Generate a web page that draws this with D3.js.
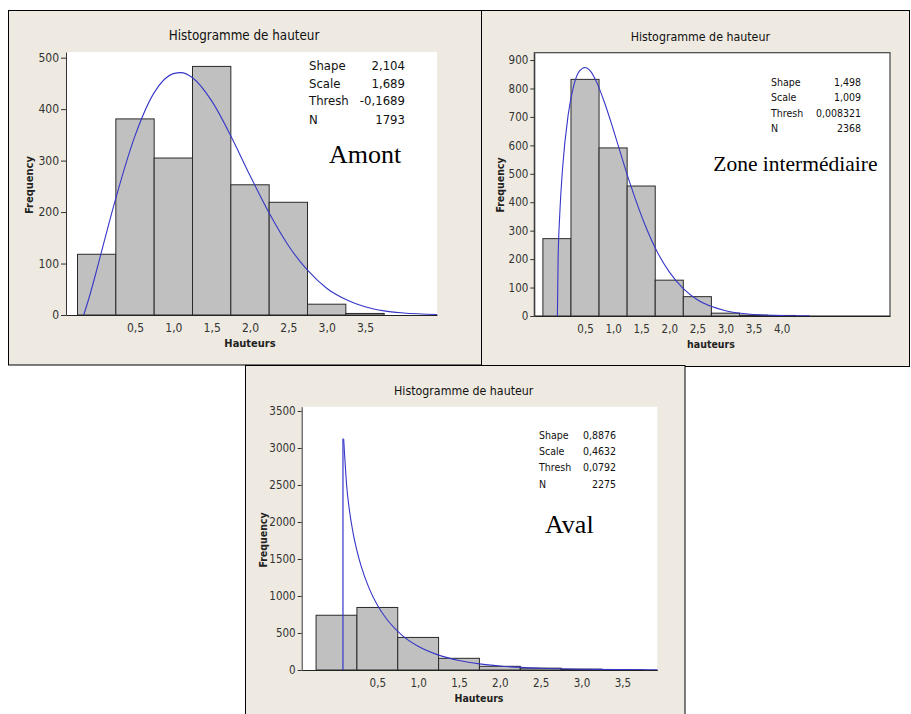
<!DOCTYPE html>
<html><head><meta charset="utf-8">
<script src="https://cdn.jsdelivr.net/npm/d3@7"></script>
<style>body{margin:0;background:#fff} svg{display:block}</style>
</head><body><svg id="c" width="911" height="714"></svg>
<script>
// ---------- DATA ----------
const statLabels = ["Shape", "Scale", "Thresh", "N"];
const binWidth = 0.5;

// Amont
const amontBinCenters = [0, 0.5, 1.0, 1.5, 2.0, 2.5, 3.0, 3.5];
const amontCounts = [118, 381, 305, 483, 253, 219, 21, 3];
const amontCurveX = [-0.169, -0.1, 0, 0.1, 0.25, 0.5, 0.75, 1.0, 1.1, 1.25, 1.5, 1.75, 2.0, 2.25, 2.5, 2.75, 3.0, 3.25, 3.5, 3.75, 4.0, 4.44];
const amontCurveY = [0, 33, 87, 144, 227, 348, 432, 469, 471, 461, 416, 348, 271, 198, 135, 87, 52, 30, 16, 8, 4, 1];
const amontStats = ["2,104", "1,689", "-0,1689", "1793"];
const amontXTicks = [0.5, 1.0, 1.5, 2.0, 2.5, 3.0, 3.5];
const amontXTickLabels = ["0,5", "1,0", "1,5", "2,0", "2,5", "3,0", "3,5"];
const amontYTicks = [0, 100, 200, 300, 400, 500];

// Zone intermédiaire
const zoneBinCenters = [0, 0.5, 1.0, 1.5, 2.0, 2.5, 3.0, 3.5, 4.0];
const zoneCounts = [272, 832, 591, 457, 126, 68, 10, 3, 2];
const zoneCurveX = [0.0083, 0.02, 0.05, 0.1, 0.2, 0.3, 0.4, 0.5, 0.6, 0.7, 0.85, 1.0, 1.15, 1.3, 1.6, 1.8, 2.0, 2.25, 2.5, 3.0, 3.5, 4.0, 4.5];
const zoneCurveY = [0, 191, 356, 518, 707, 811, 861, 874, 860, 825, 749, 658, 561, 467, 305, 220, 155, 96, 57, 18.5, 5.3, 1.3, 0.3];
const zoneStats = ["1,498", "1,009", "0,008321", "2368"];
const zoneXTicks = [0.5, 1.0, 1.5, 2.0, 2.5, 3.0, 3.5, 4.0];
const zoneXTickLabels = ["0,5", "1,0", "1,5", "2,0", "2,5", "3,0", "3,5", "4,0"];
const zoneYTicks = [0, 100, 200, 300, 400, 500, 600, 700, 800, 900];

// Aval
const avalBinCenters = [0, 0.5, 1.0, 1.5, 2.0, 2.5, 3.0, 3.5];
const avalCounts = [740, 845, 440, 158, 50, 25, 12, 3];
const avalThresh = 0.0792;
const avalCurveX = [0.088, 0.1, 0.125, 0.15, 0.2, 0.25, 0.3, 0.4, 0.5, 0.6, 0.8, 1.0, 1.25, 1.5, 1.75, 2.0, 2.5, 3.0, 3.5, 3.93];
const avalCurveY = [3120, 2898, 2487, 2229, 1871, 1614, 1411, 1103, 879, 709, 472, 320, 201, 129, 83, 54, 24, 10.5, 4.7, 2.4];
const avalStats = ["0,8876", "0,4632", "0,0792", "2275"];
const avalXTicks = [0.5, 1.0, 1.5, 2.0, 2.5, 3.0, 3.5];
const avalXTickLabels = ["0,5", "1,0", "1,5", "2,0", "2,5", "3,0", "3,5"];
const avalYTicks = [0, 500, 1000, 1500, 2000, 2500, 3000, 3500];

// ---------- DRAW ----------
const BG = "#EEEAE1";
const BAR = "#C0C0C0";
const CURVE = "#3636C8";
const UI = "'DejaVu Sans Condensed','DejaVu Sans',sans-serif";
const svg = d3.select("#c");

function drawPanel(p) {
  const g = svg.append("g");
  g.append("rect").attr("x", p.frame[0]).attr("y", p.frame[1]).attr("width", p.frame[2]).attr("height", p.frame[3])
    .attr("fill", BG).attr("stroke", "#000").attr("stroke-width", 1);

  const x = d3.scaleLinear().domain(p.xDomain).range([p.plot.x0, p.plot.x1]);
  const y = d3.scaleLinear().domain(p.yDomain).range([p.plot.y1, p.plot.y0]);

  g.append("rect").attr("x", p.plot.x0).attr("y", p.plot.y0)
    .attr("width", p.plot.x1 - p.plot.x0).attr("height", p.plot.y1 - p.plot.y0)
    .attr("fill", "#fff").attr("stroke", p.framed ? "#444" : "none").attr("stroke-width", 1.2);

  g.append("text").attr("x", p.title[0]).attr("y", p.title[1]).attr("text-anchor", "middle")
    .attr("dominant-baseline", "central").attr("font-family", UI).attr("font-size", p.titleSize)
    .attr("fill", "#111").text("Histogramme de hauteur");

  const bins = d3.zip(p.centers, p.counts);
  g.append("g").selectAll("rect").data(bins).join("rect")
    .attr("x", d => x(d[0] - binWidth / 2))
    .attr("width", d => x(d[0] + binWidth / 2) - x(d[0] - binWidth / 2))
    .attr("y", d => y(d[1]))
    .attr("height", d => y(0) - y(d[1]))
    .attr("fill", BAR).attr("stroke", "#2a2a2a").attr("stroke-width", 1);

  const line = d3.line().x(d => x(d[0])).y(d => y(d[1])).curve(d3.curveMonotoneX);
  if (p.thresh !== undefined) {
    g.append("path").attr("d", d3.line().x(d => x(d[0])).y(d => y(d[1]))([[p.thresh, 0], [p.thresh, p.curveY[0]], [p.curveX[0], p.curveY[0]]]))
      .attr("fill", "none").attr("stroke", CURVE).attr("stroke-width", 1.2);
  }
  g.append("path").attr("d", line(d3.zip(p.curveX, p.curveY)))
    .attr("fill", "none").attr("stroke", CURVE).attr("stroke-width", 1.1);

  // axes
  const ya = g.append("g").attr("transform", `translate(${p.plot.x0},0)`)
    .call(d3.axisLeft(y).tickValues(p.yTicks).tickFormat(d3.format("d")).tickSize(p.yTickSize).tickSizeOuter(0).tickPadding(2));
  ya.select(".domain").attr("stroke", "#333");
  ya.selectAll(".tick line").attr("stroke", "#333");
  ya.selectAll("text").attr("font-family", UI).attr("font-size", p.tickSize).attr("fill", "#333");

  const xa = g.append("g").attr("transform", `translate(0,${p.plot.y1})`)
    .call(d3.axisBottom(x).tickValues(p.xTicks).tickFormat((d, i) => p.xTickLabels[i]).tickSize(0).tickSizeOuter(0));
  xa.select(".domain").attr("stroke", "#222").attr("stroke-width", 1.2);
  xa.selectAll("text").attr("y", p.xTickOffset).attr("dy", "0.35em")
    .attr("font-family", UI).attr("font-size", p.tickSize).attr("fill", "#333");

  g.append("text").attr("transform", `translate(${p.yLabel[0]},${p.yLabel[1]}) rotate(-90)`)
    .attr("text-anchor", "middle").attr("dominant-baseline", "central")
    .attr("font-family", UI).attr("font-weight", "bold").attr("font-size", p.labelSize).attr("fill", "#222").text("Frequency");
  g.append("text").attr("x", p.xLabel[0]).attr("y", p.xLabel[1]).attr("text-anchor", "middle")
    .attr("dominant-baseline", "central").attr("font-family", UI).attr("font-weight", "bold")
    .attr("font-size", p.labelSize).attr("fill", "#222").text(p.xLabelText);

  // stats
  const sg = g.append("g").attr("font-family", UI).attr("font-size", p.statSize).attr("fill", "#111");
  sg.selectAll("text.l").data(statLabels).join("text").attr("class", "l")
    .attr("x", p.stats.lx).attr("y", (d, i) => p.stats.rows[i]).attr("dominant-baseline", "central").text(d => d);
  sg.selectAll("text.v").data(p.statValues).join("text").attr("class", "v")
    .attr("x", p.stats.rx).attr("y", (d, i) => p.stats.rows[i]).attr("text-anchor", "end")
    .attr("dominant-baseline", "central").text(d => d);

  g.append("text").attr("x", p.big[0]).attr("y", p.big[1]).attr("font-family", "'Liberation Serif','Times New Roman',serif")
    .attr("font-size", p.bigSize).attr("fill", "#000").text(p.bigText);
}

drawPanel({
  frame: [8.5, 10.5, 473, 354.5],
  plot: {x0: 66, x1: 437, y0: 52, y1: 315},
  xDomain: [-0.400, 4.439], yDomain: [0, 511],
  centers: amontBinCenters, counts: amontCounts,
  curveX: amontCurveX, curveY: amontCurveY,
  xTicks: amontXTicks, xTickLabels: amontXTickLabels, yTicks: amontYTicks,
  statValues: amontStats,
  title: [244, 35.7], titleSize: 13.3,
  yLabel: [29.5, 185], xLabel: [250, 343.5], xLabelText: "Hauteurs", labelSize: 11,
  stats: {lx: 309, rx: 405, rows: [65.7, 83.3, 100.7, 119.3]}, statSize: 13,
  big: [329, 162.7], bigSize: 26, bigText: "Amont",
  tickSize: 12, xTickOffset: 13, yTickSize: 5
});

drawPanel({
  frame: [481.5, 10.5, 428, 356],
  plot: {x0: 534.3, x1: 890, y0: 52.7, y1: 316}, framed: true,
  xDomain: [-0.403, 5.93], yDomain: [0, 925.8],
  centers: zoneBinCenters, counts: zoneCounts,
  curveX: zoneCurveX, curveY: zoneCurveY,
  xTicks: zoneXTicks, xTickLabels: zoneXTickLabels, yTicks: zoneYTicks,
  statValues: zoneStats,
  title: [700.3, 36.7], titleSize: 12.3,
  yLabel: [500, 185], xLabel: [711, 344.3], xLabelText: "hauteurs", labelSize: 10.5,
  stats: {lx: 771, rx: 861, rows: [81.7, 97.3, 112.7, 128.3]}, statSize: 10.5,
  big: [713.3, 171], bigSize: 21.5, bigText: "Zone intermédiaire",
  tickSize: 11.5, xTickOffset: 13, yTickSize: 4
});

drawPanel({
  frame: [245.5, 365.5, 439.5, 360],
  plot: {x0: 301.7, x1: 657.3, y0: 406.7, y1: 670},
  xDomain: [-0.426, 3.928], yDomain: [0, 3558],
  centers: avalBinCenters, counts: avalCounts,
  curveX: avalCurveX, curveY: avalCurveY, thresh: avalThresh,
  xTicks: avalXTicks, xTickLabels: avalXTickLabels, yTicks: avalYTicks,
  statValues: avalStats,
  title: [463.7, 390.7], titleSize: 12.3,
  yLabel: [263.3, 540], xLabel: [479, 698.3], xLabelText: "Hauteurs", labelSize: 10.5,
  stats: {lx: 539, rx: 616, rows: [435, 451, 467, 483.7]}, statSize: 10.5,
  big: [545, 533.3], bigSize: 26, bigText: "Aval",
  tickSize: 11.5, xTickOffset: 12.7, yTickSize: 4
});
</script>
</body></html>
